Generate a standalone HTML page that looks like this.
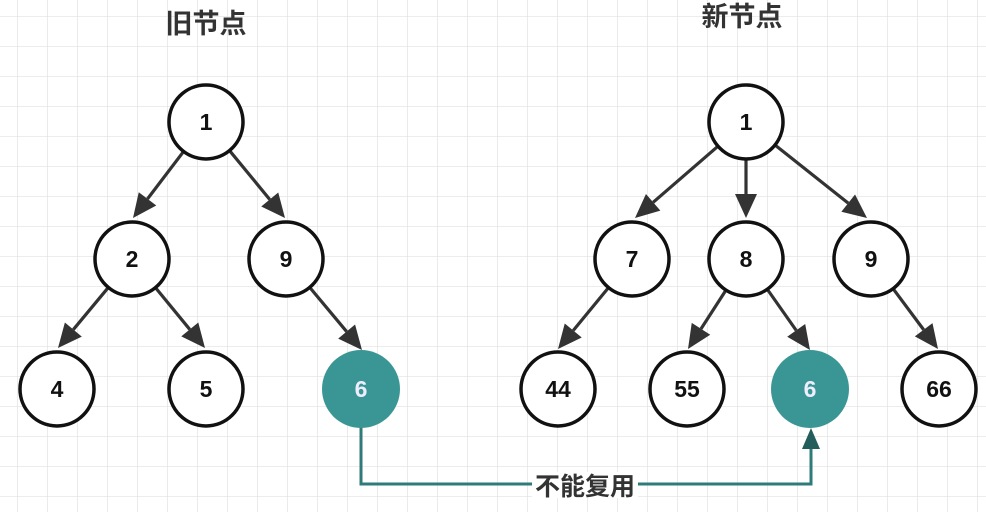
<!DOCTYPE html>
<html><head><meta charset="utf-8"><style>
html,body{margin:0;padding:0;background:#fff;}
svg{display:block;}
text{font-family:"Liberation Sans","Noto Sans CJK SC",sans-serif;}
</style></head><body>
<svg id="s" width="986" height="512" viewBox="0 0 986 512" xmlns="http://www.w3.org/2000/svg">
<defs>
<pattern id="g" x="17" y="16" width="30" height="30" patternUnits="userSpaceOnUse">
<path d="M0 0H30M0 0V30" stroke="#e0e0e0" stroke-width="1.3" fill="none"/>
</pattern>
</defs>
<rect width="986" height="512" fill="#fff"/>
<rect width="986" height="512" fill="url(#g)"/>
<text x="206" y="33" font-size="27" font-weight="bold" fill="#333" text-anchor="middle">旧节点</text>
<text x="742" y="26" font-size="27" font-weight="bold" fill="#333" text-anchor="middle">新节点</text>
<g id="edges"></g>
<path d="M361 427V484H811V445" stroke="#2e7b78" stroke-width="3" fill="none"/>
<polygon points="811,428 802,449 820,449" fill="#245e5c"/>
<rect x="532" y="472" width="106" height="26" fill="#fff"/>
<text x="585" y="495" font-size="25" fill="#333" text-anchor="middle" font-weight="bold">不能复用</text>
<g stroke="#111" stroke-width="3.5" fill="#fff">
<circle cx="206" cy="122" r="37"/><circle cx="132" cy="259" r="37"/><circle cx="286" cy="259" r="37"/>
<circle cx="57" cy="389" r="37"/><circle cx="206" cy="389" r="37"/>
<circle cx="746" cy="122" r="37"/><circle cx="632" cy="259" r="37"/><circle cx="746" cy="259" r="37"/><circle cx="871" cy="259" r="37"/>
<circle cx="558" cy="389" r="37"/><circle cx="687" cy="389" r="37"/><circle cx="939" cy="389" r="37"/>
</g>
<circle cx="361" cy="389" r="39" fill="#3a9694"/>
<circle cx="810" cy="389" r="39" fill="#3a9694"/>
<g font-size="23" font-weight="bold" fill="#111" text-anchor="middle">
<text x="206" y="130">1</text><text x="132" y="267">2</text><text x="286" y="267">9</text>
<text x="57" y="397">4</text><text x="206" y="397">5</text>
<text x="746" y="130">1</text><text x="632" y="267">7</text><text x="746" y="267">8</text><text x="871" y="267">9</text>
<text x="558" y="397">44</text><text x="687" y="397">55</text><text x="939" y="397">66</text>
<text x="361" y="397" fill="#eef">6</text><text x="810" y="397" fill="#eef">6</text>
</g>
</svg>
<script>
var E=[[206,122,133,218],[206,122,285,218],[132,259,58,348],[132,259,205,348],[286,259,362,350],
[746,122,635,218],[746,122,746,218],[746,122,867,218],[632,259,558,349],[746,259,688,349],[746,259,810,350],[871,259,938,349]];
var g=document.getElementById('edges'),h='';
E.forEach(function(e){var dx=e[2]-e[0],dy=e[3]-e[1],L=Math.hypot(dx,dy),ux=dx/L,uy=dy/L;
var sx=e[0]+ux*37,sy=e[1]+uy*37,bx=e[2]-ux*24,by=e[3]-uy*24,px=-uy*11,py=ux*11;
h+='<line x1="'+sx+'" y1="'+sy+'" x2="'+bx+'" y2="'+by+'" stroke="#333" stroke-width="3.2"/>';
h+='<polygon points="'+e[2]+','+e[3]+' '+(bx+px)+','+(by+py)+' '+(bx-px)+','+(by-py)+'" fill="#333"/>';});
g.innerHTML=h;
</script>
</body></html>
